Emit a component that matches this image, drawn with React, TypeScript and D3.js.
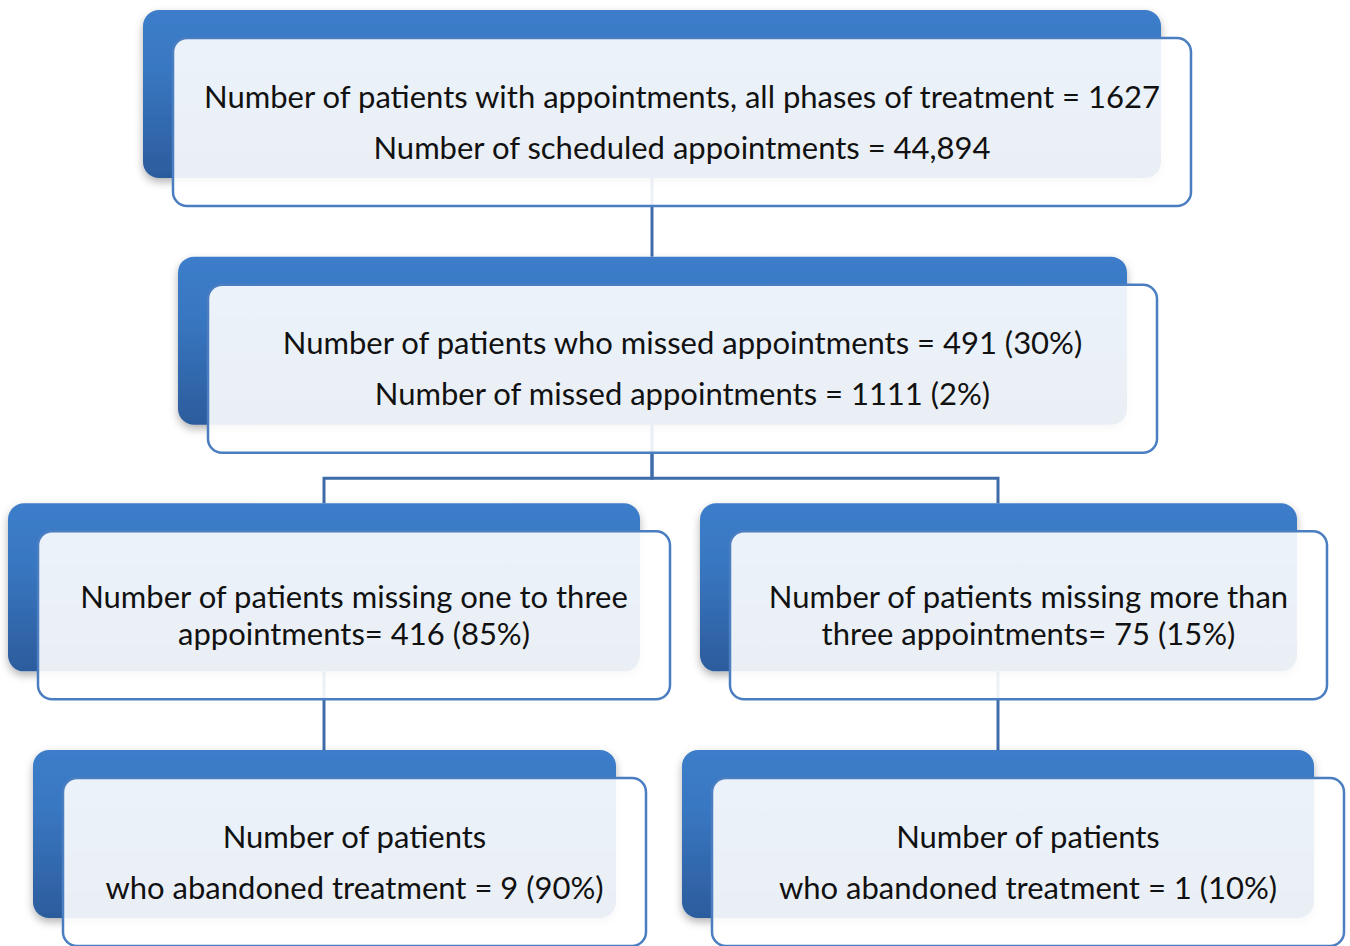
import { useEffect, useRef } from "react";
import * as d3 from "d3";

// flowchart content
const nodeIds = ["all", "missed", "oneToThree", "moreThanThree", "abandonedLow", "abandonedHigh"];
const nodeLines = [
  ["Number of patients with appointments, all phases of treatment = 1627", "Number of scheduled appointments = 44,894"],
  ["Number of patients who missed appointments = 491 (30%)", "Number of missed appointments = 1111 (2%)"],
  ["Number of patients missing one to three", "appointments= 416 (85%)"],
  ["Number of patients missing more than", "three appointments= 75 (15%)"],
  ["Number of patients", "who abandoned treatment = 9 (90%)"],
  ["Number of patients", "who abandoned treatment = 1 (10%)"],
];
const nodeTier = [0, 1, 2, 2, 3, 3];
const nodeColumn = ["center", "center", "left", "right", "left", "right"];
const links: [string, string][] = [
  ["all", "missed"],
  ["missed", "oneToThree"],
  ["missed", "moreThanThree"],
  ["oneToThree", "abandonedLow"],
  ["moreThanThree", "abandonedHigh"],
];

// layout (pixels)
const boxLeft = [143, 178, 8, 700, 33, 682];
const boxWidth = [1018, 949, 632, 597, 583, 632];
const lineGap = [51, 51, 37, 37, 51, 51];

export default function App() {
  const svgRef = useRef<SVGSVGElement>(null);

  useEffect(() => {
    if (!svgRef.current) return;
    const svg = d3.select(svgRef.current);
    svg.selectAll("*").remove();

    const width = 1350;
    const height = 946;
    const boxH = 168;
    const offX = 30;
    const offY = 28;

    svg.attr("width", width).attr("height", height);

    const y = d3.scaleLinear().domain([0, 3]).range([10, 750]);
    const colX = d3.scaleOrdinal<string, number>().domain(["left", "center", "right"]).range([324, 652, 998]);

    const defs = svg.append("defs");
    const grad = defs
      .append("linearGradient")
      .attr("id", "backGrad")
      .attr("x1", 0)
      .attr("y1", 0)
      .attr("x2", 0)
      .attr("y2", 1);
    grad.append("stop").attr("offset", "0%").attr("stop-color", "#3c7dca");
    grad.append("stop").attr("offset", "35%").attr("stop-color", "#3977c2");
    grad.append("stop").attr("offset", "100%").attr("stop-color", "#2c5c9c");

    const shadow = defs
      .append("filter")
      .attr("id", "shadow")
      .attr("x", "-5%")
      .attr("y", "-10%")
      .attr("width", "110%")
      .attr("height", "130%");
    shadow
      .append("feDropShadow")
      .attr("dx", 0)
      .attr("dy", 4)
      .attr("stdDeviation", 4)
      .attr("flood-color", "#000")
      .attr("flood-opacity", 0.3);

    const nodes = nodeIds.map((id, i) => ({
      id,
      lines: nodeLines[i],
      x: boxLeft[i],
      w: boxWidth[i],
      y: y(nodeTier[i]),
      cx: colX(nodeColumn[i]),
      gap: lineGap[i],
    }));
    const byId = new Map(nodes.map((n) => [n.id, n]));

    // connectors (under the boxes)
    const linkPath = (p: any, c: any) => {
      const py = p.y + boxH;
      const ey = c.y - 25;
      return `M${p.cx},${py}V${ey}H${c.cx}V${c.y}`;
    };
    svg
      .append("g")
      .selectAll("path")
      .data(links)
      .join("path")
      .attr("d", ([a, b]) => linkPath(byId.get(a), byId.get(b)))
      .attr("fill", "none")
      .attr("stroke", "#3e6ca8")
      .attr("stroke-width", 3);

    // back boxes
    svg
      .append("g")
      .selectAll("rect")
      .data(nodes)
      .join("rect")
      .attr("x", (d) => d.x)
      .attr("y", (d) => d.y)
      .attr("width", (d) => d.w)
      .attr("height", boxH)
      .attr("rx", 16)
      .attr("fill", "url(#backGrad)")
      .attr("filter", "url(#shadow)");

    // front boxes
    svg
      .append("g")
      .selectAll("rect")
      .data(nodes)
      .join("rect")
      .attr("x", (d) => d.x + offX)
      .attr("y", (d) => d.y + offY)
      .attr("width", (d) => d.w)
      .attr("height", boxH)
      .attr("rx", 14)
      .attr("fill", "#ffffff")
      .attr("fill-opacity", 0.9)
      .attr("stroke", "#4a7ec0")
      .attr("stroke-width", 2.5);

    // labels
    const label = svg
      .append("g")
      .attr("font-family", "Lato, 'Open Sans', sans-serif")
      .attr("font-size", 31)
      .attr("fill", "#111")
      .attr("text-anchor", "middle")
      .selectAll("text")
      .data(nodes)
      .join("text");

    label
      .selectAll("tspan")
      .data((d) =>
        d.lines.map((t, i) => ({
          t,
          x: d.x + offX + d.w / 2,
          y: d.y + offY + boxH / 2 + (i - (d.lines.length - 1) / 2) * d.gap + 11,
        }))
      )
      .join("tspan")
      .attr("x", (d) => d.x)
      .attr("y", (d) => d.y)
      .text((d) => d.t);
  }, []);

  return (
    <>
      <style>{`body{margin:0}`}</style>
      <svg ref={svgRef} style={{ display: "block" }}></svg>
    </>
  );
}
